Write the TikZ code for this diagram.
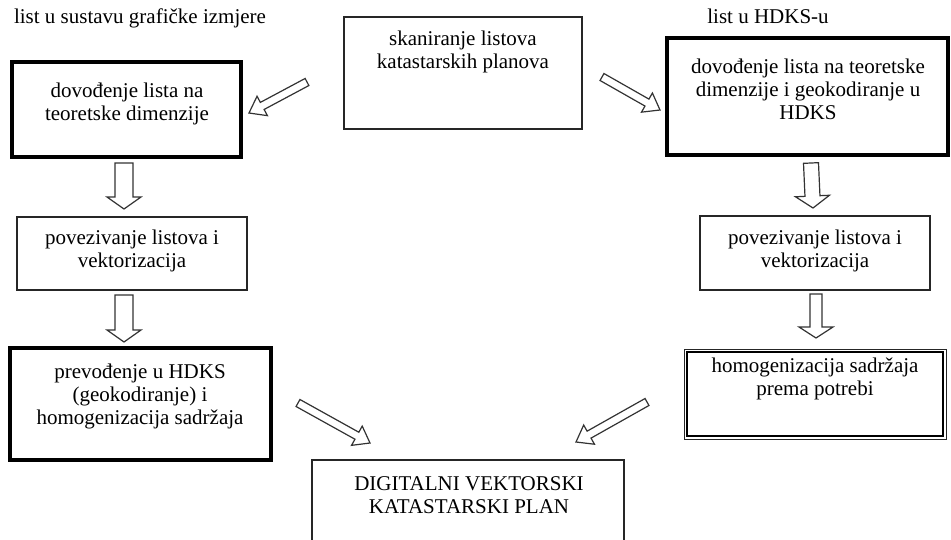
\documentclass[tikz,border=0pt]{standalone}
\usepackage{fontspec}
\setmainfont{Liberation Serif}
\usetikzlibrary{calc}

\tikzset{
  boxbase/.style={rectangle, inner sep=0pt, outer sep=0pt, fill=white},
  thinbox/.style={boxbase, draw=black!85, line width=1.4pt},
  thickbox/.style={boxbase, draw=black, line width=3.6pt},
  boxtext/.style={anchor=north, inner sep=0pt, align=center,
    font=\fontsize{21}{23}\selectfont},
  headtext/.style={anchor=north, inner sep=0pt, font=\fontsize{21}{23}\selectfont},
  hollowarrow/.style={draw=black!80, line width=1.2pt, fill=white, line join=miter},
}

% hollow block arrow: #1 tail, #2 tip, #3 shaft half width, #4 head half width, #5 head length
\newcommand\hollowarrowdraw[5]{%
  \coordinate (#1-base) at ($(#2)!#5!(#1)$);
  \draw[hollowarrow]
    ($(#1)!#3!90:(#2)$) -- ($(#1-base)!#3!90:(#2)$) -- ($(#1-base)!#4!90:(#2)$)
    -- (#2)
    -- ($(#1-base)!#4!-90:(#2)$) -- ($(#1-base)!#3!-90:(#2)$) -- ($(#1)!#3!-90:(#2)$)
    -- cycle;
}

\begin{document}
\begin{tikzpicture}[x=1pt, y=-1pt]
  \useasboundingbox (0,0) rectangle (951,539);
  \clip (0,0) rectangle (951,539);

  % column headings
  \node[headtext] (hleft) at (140,9) {list u sustavu grafičke izmjere};
  \node[headtext] (hright) at (768,9) {list u HDKS-u};

  % boxes
  \node[thinbox, minimum width=238pt, minimum height=112pt] (scan) at (463,73) {};
  \node[boxtext] (scant) at (463,31) {skaniranje listova\\katastarskih planova};

  \node[thickbox, minimum width=229pt, minimum height=95pt] (l1) at (126.5,109.5) {};
  \node[boxtext] (l1t) at (127,83) {dovođenje lista na\\teoretske dimenzije};

  \node[thickbox, minimum width=281pt, minimum height=117pt] (r1) at (807.5,96.5) {};
  \node[boxtext] (r1t) at (808,59) {dovođenje lista na teoretske\\dimenzije i geokodiranje u\\HDKS};

  \node[thinbox, minimum width=230pt, minimum height=73pt] (l2) at (132,253.5) {};
  \node[boxtext] (l2t) at (132,230) {povezivanje listova i\\vektorizacija};

  \node[thinbox, minimum width=230pt, minimum height=74pt] (r2) at (815,253) {};
  \node[boxtext] (r2t) at (815,230) {povezivanje listova i\\vektorizacija};

  \node[thickbox, minimum width=261pt, minimum height=112pt] (l3) at (140.5,404) {};
  \node[boxtext] (l3t) at (140,364) {prevođenje u HDKS\\(geokodiranje) i\\homogenizacija sadržaja};

  \node[boxbase, draw=black!85, line width=1pt, minimum width=262pt, minimum height=90pt] (r3) at (815,394) {};
  \node[rectangle, draw=black, line width=2.8pt, inner sep=0pt,
        minimum width=256pt, minimum height=84pt] (r3in) at (r3.center) {};
  \node[boxtext] (r3t) at (815,358) {homogenizacija sadržaja\\prema potrebi};

  \node[thinbox, minimum width=312pt, minimum height=100pt] (dvkp) at (468,510) {};
  \node[boxtext] (dvkpt) at (469,476) {DIGITALNI VEKTORSKI\\KATASTARSKI PLAN};

  % arrow end points
  \coordinate (a1) at (307,82);   \coordinate (a1h) at (249,113);
  \coordinate (a2) at (602,77);   \coordinate (a2h) at (660,110);
  \coordinate (a3) at (124,163);  \coordinate (a3h) at (124,209);
  \coordinate (a4) at (124,295);  \coordinate (a4h) at (124,342);
  \coordinate (a5) at (811,163);  \coordinate (a5h) at (813,208);
  \coordinate (a6) at (816,294);  \coordinate (a6h) at (816,338);
  \coordinate (a7) at (298,403);  \coordinate (a7h) at (370,443);
  \coordinate (a8) at (647,402);  \coordinate (a8h) at (576,442);

  % hollow arrows
  \hollowarrowdraw{a1}{a1h}{4pt}{11pt}{15pt}
  \hollowarrowdraw{a2}{a2h}{4pt}{11pt}{15pt}
  \hollowarrowdraw{a3}{a3h}{9pt}{17pt}{12pt}
  \hollowarrowdraw{a4}{a4h}{9pt}{17pt}{12pt}
  \hollowarrowdraw{a5}{a5h}{7.5pt}{17pt}{12pt}
  \hollowarrowdraw{a6}{a6h}{6pt}{17pt}{11pt}
  \hollowarrowdraw{a7}{a7h}{4pt}{11pt}{15pt}
  \hollowarrowdraw{a8}{a8h}{4pt}{11pt}{15pt}
\end{tikzpicture}
\end{document}
